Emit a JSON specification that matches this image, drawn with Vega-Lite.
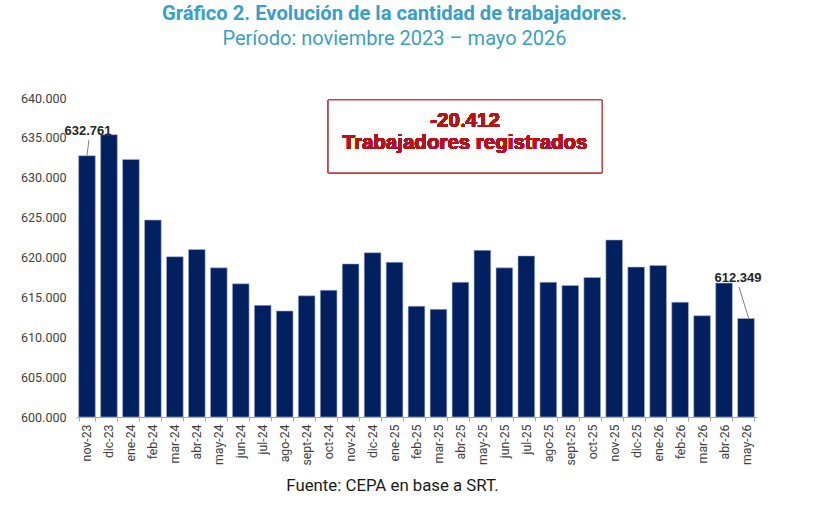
{
  "$schema": "https://vega.github.io/schema/vega-lite/v6.json",
  "width": 681,
  "height": 319,
  "autosize": {"type": "none"},
  "padding": {"left": 76, "top": 98, "right": 57, "bottom": 92},
  "background": "white",
  "title": {
    "text": "Gráfico 2. Evolución de la cantidad de trabajadores.",
    "subtitle": "Período: noviembre 2023 – mayo 2026",
    "anchor": "middle",
    "frame": "group",
    "dx": -22,
    "offset": 43,
    "font": "Roboto",
    "fontSize": 20.2,
    "fontWeight": "bold",
    "color": "#3A9FC6",
    "subtitleFont": "Roboto",
    "subtitleFontSize": 20,
    "subtitleColor": "#3A9FC6",
    "subtitlePadding": 5
  },
  "data": {
    "values": [
      {"mes": "nov-23", "trabajadores": 632761},
      {"mes": "dic-23", "trabajadores": 635400},
      {"mes": "ene-24", "trabajadores": 632300},
      {"mes": "feb-24", "trabajadores": 624700},
      {"mes": "mar-24", "trabajadores": 620100},
      {"mes": "abr-24", "trabajadores": 621000},
      {"mes": "may-24", "trabajadores": 618700},
      {"mes": "jun-24", "trabajadores": 616700},
      {"mes": "jul-24", "trabajadores": 614000},
      {"mes": "ago-24", "trabajadores": 613300},
      {"mes": "sept-24", "trabajadores": 615200},
      {"mes": "oct-24", "trabajadores": 615900},
      {"mes": "nov-24", "trabajadores": 619200},
      {"mes": "dic-24", "trabajadores": 620600},
      {"mes": "ene-25", "trabajadores": 619400},
      {"mes": "feb-25", "trabajadores": 613900},
      {"mes": "mar-25", "trabajadores": 613500},
      {"mes": "abr-25", "trabajadores": 616900},
      {"mes": "may-25", "trabajadores": 620900},
      {"mes": "jun-25", "trabajadores": 618700},
      {"mes": "jul-25", "trabajadores": 620200},
      {"mes": "ago-25", "trabajadores": 616900},
      {"mes": "sept-25", "trabajadores": 616500},
      {"mes": "oct-25", "trabajadores": 617500},
      {"mes": "nov-25", "trabajadores": 622200},
      {"mes": "dic-25", "trabajadores": 618800},
      {"mes": "ene-26", "trabajadores": 619000},
      {"mes": "feb-26", "trabajadores": 614400},
      {"mes": "mar-26", "trabajadores": 612700},
      {"mes": "abr-26", "trabajadores": 616800},
      {"mes": "may-26", "trabajadores": 612349}
    ]
  },
  "layer": [
    {
      "layer": [
        {
          "mark": {"type": "bar", "fill": "#022060", "stroke": "#a8b6d2", "strokeWidth": 0.6},
          "encoding": {
            "x": {
              "field": "mes",
              "type": "ordinal",
              "sort": null,
              "scale": {"paddingInner": 0.24, "paddingOuter": 0.12},
              "axis": {
                "labelAngle": -90,
                "labelFont": "Roboto",
                "labelFontSize": 12.3,
                "labelColor": "#404040",
                "labelPadding": 3,
                "labelOverlap": false,
                "tickBand": "extent",
                "tickSize": 4,
                "tickColor": "#a6a6a6",
                "domainColor": "#a6a6a6",
                "grid": false,
                "title": "Fuente: CEPA en base a SRT.",
                "titleFont": "Roboto",
                "titleFontSize": 16.8,
                "titleFontWeight": "normal",
                "titleColor": "#1a1a1a",
                "titleX": 316,
                "titleY": 68,
                "titleAlign": "center",
                "titleBaseline": "middle"
              }
            },
            "y": {
              "field": "trabajadores",
              "type": "quantitative",
              "scale": {"domain": [600000, 640000], "nice": false, "zero": false},
              "axis": {
                "values": [600000, 605000, 610000, 615000, 620000, 625000, 630000, 635000, 640000],
                "format": ",.0f",
                "labelOverlap": false,
                "title": null
              }
            },
            "y2": {"datum": 600000}
          }
        },
        {
          "transform": [{"filter": "datum.mes == 'nov-23'"}],
          "mark": {"type": "rule", "color": "#808080", "strokeWidth": 1, "xOffset": 0, "x2Offset": 2, "yOffset": 0, "y2Offset": -16},
          "encoding": {
            "x": {"field": "mes", "type": "ordinal", "sort": null},
            "x2": {"field": "mes"},
            "y": {"field": "trabajadores", "type": "quantitative", "axis": {"values": [600000, 605000, 610000, 615000, 620000, 625000, 630000, 635000, 640000], "format": ",.0f", "labelOverlap": false, "title": null}},
            "y2": {"field": "trabajadores"}
          }
        },
        {
          "transform": [{"filter": "datum.mes == 'may-26'"}],
          "mark": {"type": "rule", "color": "#808080", "strokeWidth": 1, "xOffset": 2.7, "x2Offset": -7, "yOffset": 0, "y2Offset": -31.5},
          "encoding": {
            "x": {"field": "mes", "type": "ordinal", "sort": null},
            "x2": {"field": "mes"},
            "y": {"field": "trabajadores", "type": "quantitative", "axis": {"values": [600000, 605000, 610000, 615000, 620000, 625000, 630000, 635000, 640000], "format": ",.0f", "labelOverlap": false, "title": null}},
            "y2": {"field": "trabajadores"}
          }
        },
        {
          "transform": [{"filter": "datum.mes == 'nov-23'"}],
          "mark": {"type": "text", "font": "Liberation Sans", "fontSize": 13, "fontWeight": "bold", "fill": "#262626", "baseline": "middle", "dx": 1, "dy": -24.7},
          "encoding": {
            "x": {"field": "mes", "type": "ordinal", "sort": null},
            "y": {"field": "trabajadores", "type": "quantitative", "axis": {"values": [600000, 605000, 610000, 615000, 620000, 625000, 630000, 635000, 640000], "format": ",.0f", "labelOverlap": false, "title": null}},
            "text": {"field": "trabajadores", "type": "quantitative", "format": ",.0f"}
          }
        },
        {
          "transform": [{"filter": "datum.mes == 'may-26'"}],
          "mark": {"type": "text", "font": "Liberation Sans", "fontSize": 13, "fontWeight": "bold", "fill": "#262626", "baseline": "middle", "dx": -8, "dy": -40.5},
          "encoding": {
            "x": {"field": "mes", "type": "ordinal", "sort": null},
            "y": {"field": "trabajadores", "type": "quantitative", "axis": {"values": [600000, 605000, 610000, 615000, 620000, 625000, 630000, 635000, 640000], "format": ",.0f", "labelOverlap": false, "title": null}},
            "text": {"field": "trabajadores", "type": "quantitative", "format": ",.0f"}
          }
        }
      ]
    },
    {
      "mark": {"type": "rect", "fill": "white", "stroke": "#C9474B", "strokeWidth": 1},
      "encoding": {
        "x": {"datum": 11.485, "type": "quantitative", "scale": {"domain": [0, 31], "nice": false, "zero": false}, "axis": null},
        "x2": {"datum": 23.94},
        "y": {"datum": 639749, "type": "quantitative", "axis": {"values": [600000, 605000, 610000, 615000, 620000, 625000, 630000, 635000, 640000], "format": ",.0f", "labelOverlap": false, "title": null}},
        "y2": {"datum": 630633}
      }
    },
    {
      "mark": {
        "type": "text",
        "text": ["-20.412", "Trabajadores registrados"],
        "font": "Liberation Sans",
        "fontSize": 20.5,
        "fontWeight": "bold",
        "fill": "#B5121B",
        "lineHeight": 22.5,
        "align": "center",
        "baseline": "alphabetic"
      },
      "encoding": {
        "x": {"datum": 17.71, "type": "quantitative", "scale": {"domain": [0, 31], "nice": false, "zero": false}, "axis": null},
        "y": {"datum": 636364, "type": "quantitative", "axis": {"values": [600000, 605000, 610000, 615000, 620000, 625000, 630000, 635000, 640000], "format": ",.0f", "labelOverlap": false, "title": null}}
      }
    }
  ],
  "resolve": {"scale": {"x": "independent"}, "axis": {"x": "independent"}},
  "config": {
    "view": {"stroke": null},
    "axisY": {
      "labelOverlap": false,
      "domain": false,
      "ticks": false,
      "grid": false,
      "labelPadding": 10,
      "labelFont": "Roboto",
      "labelFontSize": 12.5,
      "labelColor": "#404040"
    },
    "locale": {"number": {"decimal": ",", "thousands": ".", "grouping": [3], "currency": ["$", ""]}}
  }
}
